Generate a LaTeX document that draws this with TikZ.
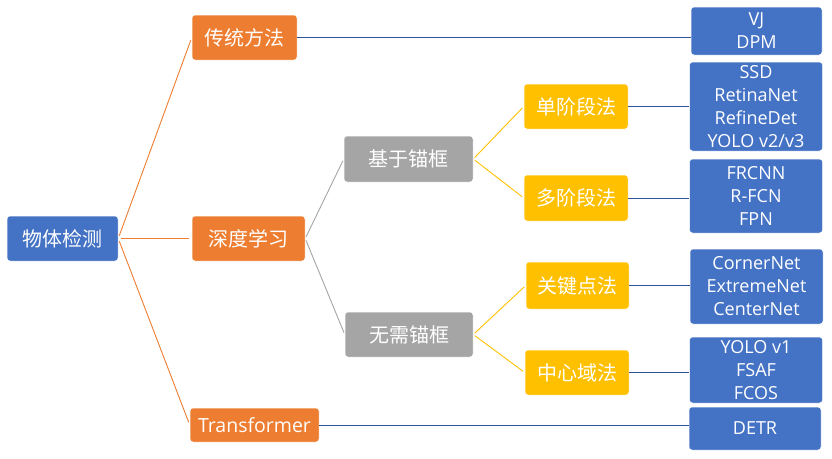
\documentclass[tikz,border=0pt]{standalone}
\usepackage{fontspec}
\setmainfont{Open Sans}
\newfontfamily\cjk{Noto Sans CJK SC}
\usetikzlibrary{calc}
\definecolor{ofblue}{HTML}{4472C4}
\definecolor{oforange}{HTML}{ED7D31}
\definecolor{ofgray}{HTML}{A5A5A5}
\definecolor{ofyellow}{HTML}{FFC000}
\definecolor{oflink}{HTML}{2F5597}

\begin{document}
\begin{tikzpicture}[x=1pt,y=-1pt,
	box/.style={draw=white,line width=0.5pt,rounded corners=3pt,text=white,inner sep=0pt,align=center,minimum width=104pt,minimum height=45pt,font=\cjk\fontsize{20}{24}\selectfont},
	rootbox/.style={box,fill=ofblue,minimum width=111pt},
	mainbox/.style={box,fill=oforange},
	anchorbox/.style={box,fill=ofgray,minimum width=129pt},
	stagebox/.style={box,fill=ofyellow},
	leafbox/.style={box,fill=ofblue,minimum width=133pt,font=\fontsize{18}{23}\selectfont},
	mainlink/.style={draw=oforange,line width=0.9pt,shorten <=3pt,shorten >=3pt},
	graylink/.style={draw=ofgray,line width=0.9pt,shorten <=2pt,shorten >=2pt},
	yellowlink/.style={draw=ofyellow,line width=0.9pt,shorten <=2pt,shorten >=2pt},
	leaflink/.style={draw=oflink,line width=1pt}]
	\useasboundingbox (0,0) rectangle (832,458);
	\draw (62.5,238.5) node (root) [rootbox] {物体检测};
	
	\draw (244.5,37.5) node (trad) [mainbox,minimum width=105pt] {传统方法};
	\draw (248.5,238.5) node (deep) [mainbox,minimum width=113pt] {深度学习};
	\draw (254.5,425) node (trans) [mainbox,minimum width=129pt,minimum height=34pt,font=\fontsize{19.5}{22}\selectfont] {Transformer};
	
	\draw (408.5,159) node (anchor) [anchorbox,minimum height=46pt] {基于锚框};
	\draw (409,334.5) node (noanchor) [anchorbox,minimum width=128pt] {无需锚框};
	
	\draw (576,106.5) node (single) [stagebox] {单阶段法};
	\draw (576,198) node (multi) [stagebox,minimum height=46pt] {多阶段法};
	\draw (577.5,285.5) node (keypt) [stagebox,minimum width=103pt,minimum height=47pt] {关键点法};
	\draw (577,372.5) node (centre) [stagebox] {中心域法};
	
	\draw (756.5,31) node (vj) [leafbox,minimum width=131pt,minimum height=48pt] {VJ\\DPM};
	\draw (756,106.5) node (ssd) [leafbox,minimum height=89pt] {SSD\\RetinaNet\\RefineDet\\YOLO v2/v3};
	\draw (756,196) node (frcnn) [leafbox,minimum height=74pt] {FRCNN\\R-FCN\\FPN};
	\draw (756.5,286.5) node (corner) [leafbox,minimum height=75pt] {CornerNet\\ExtremeNet\\CenterNet};
	\draw (756,370) node (yolo) [leafbox,minimum height=66pt] {YOLO v1\\FSAF\\FCOS};
	\draw (755,428.5) node (detr) [leafbox,minimum width=132pt,minimum height=43pt] {DETR};
	
	% first level
	\draw[mainlink] (root.east) -- (trad.west);
	\draw[mainlink] (root.east) -- (deep.west);
	\draw[mainlink] (root.east) -- (trans.west);
	
	% anchors
	\draw[graylink] (deep.east) -- (anchor.west);
	\draw[graylink] (deep.east) -- (noanchor.west);
	\draw[yellowlink] (anchor.east) -- (single.west);
	\draw[yellowlink] (anchor.east) -- (multi.west);
	\draw[yellowlink] (noanchor.east) -- (keypt.west);
	\draw[yellowlink] (noanchor.east) -- (centre.west);
	
	% leaves
	\draw[leaflink] (trad.east) -- (trad.east -| vj.west);
	\draw[leaflink] (single.east) -- (single.east -| ssd.west);
	\draw[leaflink] (multi.east) -- (multi.east -| frcnn.west);
	\draw[leaflink] (keypt.east) -- (keypt.east -| corner.west);
	\draw[leaflink] (centre.east) -- (centre.east -| yolo.west);
	\draw[leaflink] (trans.east) -- (trans.east -| detr.west);
\end{tikzpicture}
\end{document}
